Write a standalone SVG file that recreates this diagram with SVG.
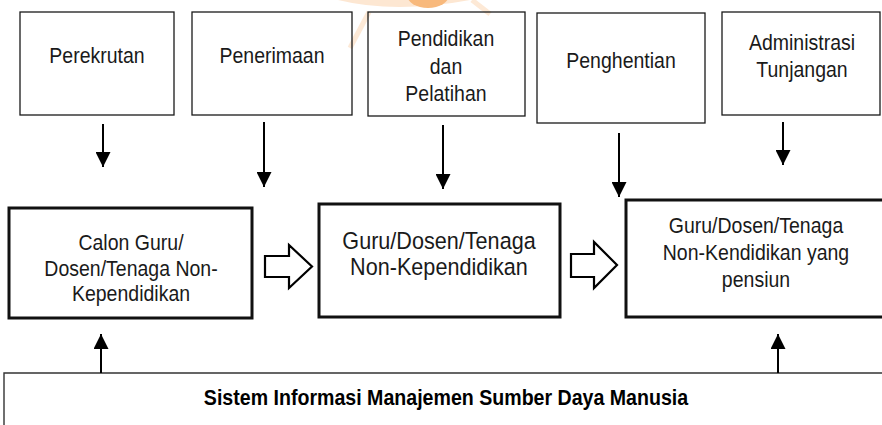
<svg xmlns="http://www.w3.org/2000/svg" width="882" height="425" viewBox="0 0 882 425">
  <style>
    .box-thin { fill: none; stroke: #1a1a1a; stroke-width: 1.3; }
    .box-bold { fill: none; stroke: #111; stroke-width: 3; }
    .lbl { font-family: "Liberation Sans", Arial, sans-serif; font-size: 21.2px; fill: #1a1a1a; text-anchor: middle; }
    .lbl-lg { font-size: 23.5px; }
    .lbl-b { font-weight: bold; font-size: 21.3px; fill: #000; }
    .wire { stroke: #000; stroke-width: 2; fill: none; }
    .block { fill: #fff; stroke: #000; stroke-width: 2.2; stroke-linejoin: miter; }
  </style>
  <defs>
    <marker id="head" viewBox="0 0 10 10" refX="10" refY="5" markerWidth="7.5" markerHeight="7.5" markerUnits="strokeWidth" orient="auto">
      <path d="M0,0 L10,5 L0,10 Z" fill="#000"/>
    </marker>
  </defs>

  <rect width="882" height="425" fill="#fff"/>

  <!-- faint orange logo mark behind the top row -->
  <g id="mark" opacity="0.85">
    <path d="M338,0 Q395,14 470,0 Z" fill="#fde3cb"/>
    <ellipse cx="428" cy="-5" rx="21" ry="13" fill="#f7ad66"/>
    <path d="M369,12 L350,48" stroke="#fde6d0" stroke-width="5" fill="none"/>
    <path d="M472,0 L490,14" stroke="#fde6d0" stroke-width="5" fill="none"/>
  </g>

  <!-- top row: activities (narrow type: horizontally squeezed) -->
  <g id="perekrutan">
    <rect class="box-thin" x="20" y="12" width="154" height="103"/>
    <text class="lbl" transform="matrix(0.92 0 0 1 97 63)">Perekrutan</text>
  </g>
  <g id="penerimaan">
    <rect class="box-thin" x="192" y="12" width="160" height="103"/>
    <text class="lbl" transform="matrix(0.92 0 0 1 272 63)">Penerimaan</text>
  </g>
  <g id="pendidikan">
    <rect class="box-thin" x="368" y="12" width="157" height="104"/>
    <text class="lbl" transform="matrix(0.92 0 0 1 446 46)">Pendidikan</text>
    <text class="lbl" transform="matrix(0.92 0 0 1 446 74)">dan</text>
    <text class="lbl" transform="matrix(0.92 0 0 1 446 101)">Pelatihan</text>
  </g>
  <g id="penghentian">
    <rect class="box-thin" x="537" y="13" width="168" height="110"/>
    <text class="lbl" transform="matrix(0.92 0 0 1 621 68)">Penghentian</text>
  </g>
  <g id="administrasi">
    <rect class="box-thin" x="722" y="12" width="158" height="103"/>
    <text class="lbl" transform="matrix(0.92 0 0 1 802 50)">Administrasi</text>
    <text class="lbl" transform="matrix(0.92 0 0 1 802 77)">Tunjangan</text>
  </g>

  <!-- middle row: staff states -->
  <g id="calon">
    <rect class="box-bold" x="9" y="208" width="243" height="110"/>
    <text class="lbl" transform="matrix(0.92 0 0 1 131 250)">Calon Guru/</text>
    <text class="lbl" transform="matrix(0.92 0 0 1 131 276)">Dosen/Tenaga Non-</text>
    <text class="lbl" transform="matrix(0.92 0 0 1 131 301)">Kependidikan</text>
  </g>
  <g id="aktif">
    <rect class="box-bold" x="319" y="204" width="241" height="113"/>
    <text class="lbl lbl-lg" transform="matrix(0.92 0 0 1 439 249)">Guru/Dosen/Tenaga</text>
    <text class="lbl lbl-lg" transform="matrix(0.92 0 0 1 439 275)">Non-Kependidikan</text>
  </g>
  <g id="pensiun">
    <path class="box-bold" d="M890,200 H626 V317 H890"/>
    <text class="lbl" transform="matrix(0.92 0 0 1 756 233)">Guru/Dosen/Tenaga</text>
    <text class="lbl" transform="matrix(0.92 0 0 1 756 260)">Non-Kendidikan yang</text>
    <text class="lbl" transform="matrix(0.92 0 0 1 756 287)">pensiun</text>
  </g>

  <!-- bottom band: the information system -->
  <g id="simsdm">
    <path d="M890,373 H4 V430" fill="none" stroke="#333" stroke-width="1.4"/>
    <text class="lbl lbl-b" transform="matrix(0.92 0 0 1 446 405)">Sistem Informasi Manajemen Sumber Daya Manusia</text>
  </g>

  <g id="connectors">
    <!-- activity to state -->
    <line class="wire" x1="103" y1="124" x2="103" y2="167" marker-end="url(#head)"/>
    <line class="wire" x1="264" y1="122" x2="264" y2="187" marker-end="url(#head)"/>
    <line class="wire" x1="443" y1="125" x2="443" y2="189" marker-end="url(#head)"/>
    <line class="wire" x1="619" y1="133" x2="619" y2="197" marker-end="url(#head)"/>
    <line class="wire" x1="783" y1="122" x2="783" y2="165" marker-end="url(#head)"/>
    <!-- system to states -->
    <line class="wire" x1="101" y1="373" x2="101" y2="334" marker-end="url(#head)"/>
    <line class="wire" x1="778" y1="373" x2="778" y2="334" marker-end="url(#head)"/>
    <!-- hollow block arrows between states -->
    <path class="block" d="M265,256 H289 V245 L312,266.5 L289,288 V277 H265 Z"/>
    <path class="block" d="M571,254 H594 V242 L617,265 L594,288 V277 H571 Z"/>
  </g>
</svg>
